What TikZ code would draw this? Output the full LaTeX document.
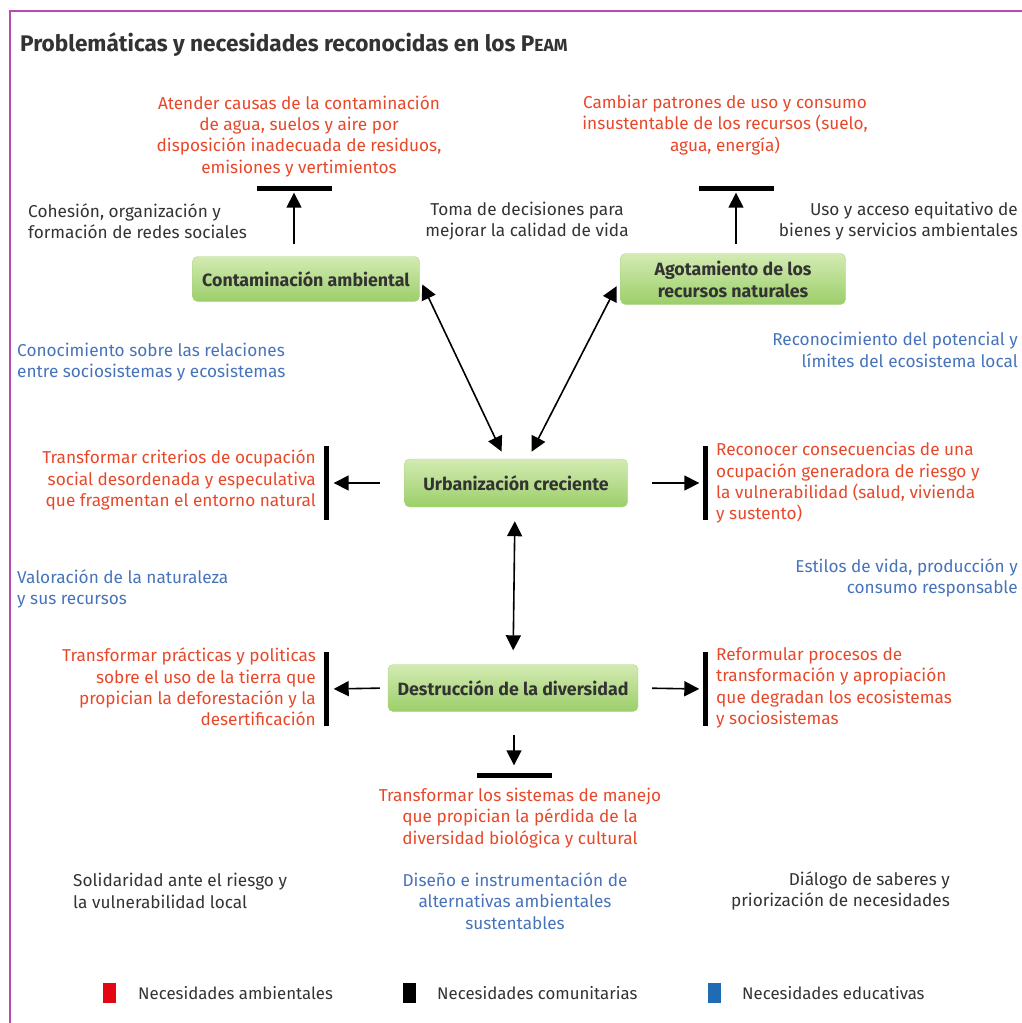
\documentclass[tikz,border=0pt]{standalone}
\usepackage{fontspec}
\setmainfont{Fira Sans}
\usepackage{tikz}
\usetikzlibrary{arrows.meta,positioning,calc}
\definecolor{peamFrame}{HTML}{B54CAE}
\definecolor{peamRed}{HTML}{E8482A}
\definecolor{peamBlue}{HTML}{4773BA}
\definecolor{peamInk}{HTML}{333333}
\definecolor{peamBoxTop}{HTML}{D3EBB3}
\definecolor{peamBoxBot}{HTML}{9CCE69}
\definecolor{peamBoxLine}{HTML}{AED486}
\definecolor{legRed}{HTML}{E30613}
\definecolor{legBlue}{HTML}{1F6CB4}

\begin{document}
\begin{tikzpicture}[
  x=1pt,y=-1pt,
  txt/.style={font=\fontsize{17.2}{21.3}\selectfont,inner sep=0pt},
  amb/.style={txt,color=peamRed},
  com/.style={txt,color=peamInk},
  edu/.style={txt,color=peamBlue},
  prob/.style={rounded corners=5pt,draw=peamBoxLine,top color=peamBoxTop,bottom color=peamBoxBot,
    font=\bfseries\fontsize{17.8}{22}\selectfont,text=peamInk,align=center,inner sep=0pt},
  hbar/.style={fill=black,inner sep=0pt,minimum width=75pt,minimum height=5pt},
  vbar/.style={fill=black,inner sep=0pt,minimum width=5pt,minimum height=74pt},
  arr/.style={line width=1.6pt,-{Triangle[length=15pt,width=15pt]}},
  dbl/.style={line width=1.6pt,{Triangle[length=15pt,width=15pt]}-{Triangle[length=15pt,width=15pt]}},
  leg/.style={inner sep=0pt,minimum width=13pt,minimum height=20pt},
  legtxt/.style={font=\fontsize{16.8}{18}\selectfont,color=peamInk,inner sep=0pt,anchor=west}
]
  \useasboundingbox (0,0) rectangle (1022,1023);
  \draw[peamFrame,line width=2pt] (10,1023) -- (10,11) -- (1022,11);
  \node[anchor=west,inner sep=0pt,font=\bfseries\fontsize{22.6}{26}\selectfont,color=peamInk] (title) at (20,45)
    {Problemáticas y necesidades reconocidas en los P{\fontsize{17.5}{26}\selectfont EAM}};

  % problem boxes
  \node[prob,minimum width=227pt,minimum height=45pt] (cont) at (306,279) {Contaminación ambiental};
  \node[prob,minimum width=225pt,minimum height=51pt] (agot) at (733,279) {Agotamiento de los\\recursos naturales};
  \node[prob,minimum width=223pt,minimum height=48pt] (urb) at (516,483) {Urbanización creciente};
  \node[prob,minimum width=250pt,minimum height=47pt] (div) at (513,688) {Destrucción de la diversidad};

  % bars
  \node[hbar] (hbA) at (294,188) {};
  \node[hbar] (hbB) at (736,188) {};
  \node[hbar] (hbC) at (514,775) {};
  \node[vbar] (vbA) at (326,483) {};
  \node[vbar] (vbB) at (705,483) {};
  \node[vbar] (vbC) at (326,689) {};
  \node[vbar] (vbD) at (705,689) {};

  % needs
  \node[amb,align=center] (n1) at (299,136) {Atender causas de la contaminación\\de agua, suelos y aire por\\disposición inadecuada de residuos,\\emisiones y vertimientos};
  \node[amb,align=center] (n2) at (725,125) {Cambiar patrones de uso y consumo\\insustentable de los recursos (suelo,\\agua, energía)};
  \node[com,align=left,anchor=west] (n3) at (28,221) {Cohesión, organización y\\formación de redes sociales};
  \node[com,align=center] (n4) at (527,221) {Toma de decisiones para\\mejorar la calidad de vida};
  \node[com,align=right,anchor=east] (n5) at (1018,221) {Uso y acceso equitativo de\\bienes y servicios ambientales};
  \node[edu,align=left,anchor=west] (n6) at (17,362) {Conocimiento sobre las relaciones\\entre sociosistemas y ecosistemas};
  \node[edu,align=right,anchor=east] (n7) at (1018,350) {Reconocimiento del potencial y\\límites del ecosistema local};
  \node[amb,align=right,anchor=east] (n8) at (316,480) {Transformar criterios de ocupación\\social desordenada y especulativa\\que fragmentan el entorno natural};
  \node[amb,align=left,anchor=west] (n9) at (716,483) {Reconocer consecuencias de una\\ocupación generadora de riesgo y\\la vulnerabilidad (salud, vivienda\\y sustento)};
  \node[edu,align=left,anchor=west] (n10) at (17,589) {Valoración de la naturaleza\\y sus recursos};
  \node[edu,align=right,anchor=east] (n11) at (1018,578) {Estilos de vida, producción y\\consumo responsable};
  \node[amb,align=right,anchor=east] (n12) at (316,687) {Transformar prácticas y politicas\\sobre el uso de la tierra que\\propician la deforestación y la\\desertificación};
  \node[amb,align=left,anchor=west] (n13) at (716,688) {Reformular procesos de\\transformación y apropiación\\que degradan los ecosistemas\\y sociosistemas};
  \node[amb,align=center] (n14) at (520,818) {Transformar los sistemas de manejo\\que propician la pérdida de la\\diversidad biológica y cultural};
  \node[com,align=left,anchor=west] (n15) at (73,891) {Solidaridad ante el riesgo y\\la vulnerabilidad local};
  \node[edu,align=center] (n16) at (515,901) {Diseño e instrumentación de\\alternativas ambientales\\sustentables};
  \node[com,align=right,anchor=east] (n17) at (950,891) {Diálogo de saberes y\\priorización de necesidades};

  % connectors
  \draw[arr,shorten <=12pt,shorten >=2pt] (hbA.south |- cont.north) -- (hbA.south);
  \draw[arr,shorten <=9pt,shorten >=2pt] (hbB.south |- agot.north) -- (hbB.south);
  \draw[dbl,shorten <=6pt,shorten >=8pt] (cont.east) -- ([xshift=-11pt]urb.north);
  \draw[dbl,shorten <=8pt,shorten >=8pt] (agot.west) -- ([xshift=12pt]urb.north);
  \draw[arr,shorten <=24pt,shorten >=5pt] (urb.west) -- (vbA.east);
  \draw[arr,shorten <=24pt,shorten >=3pt] (urb.east) -- (vbB.west);
  \draw[dbl,shorten <=14pt,shorten >=14pt] ([xshift=-1pt]urb.south) -- (div.north);
  \draw[arr,shorten <=8pt,shorten >=5pt] (div.west) -- (vbC.east);
  \draw[arr,shorten <=14pt,shorten >=3pt] (div.east) -- (vbD.west);
  \draw[arr,shorten <=23pt,shorten >=7pt] (div.south -| hbC.north) -- (hbC.north);

  % legend
  \node[leg,fill=legRed] (lA) at (109,993) {};
  \node[legtxt] (lAt) at (138,993) {Necesidades ambientales};
  \node[leg,fill=black] (lB) at (409,993) {};
  \node[legtxt] (lBt) at (437,993) {Necesidades comunitarias};
  \node[leg,fill=legBlue] (lC) at (714,993) {};
  \node[legtxt] (lCt) at (742,993) {Necesidades educativas};
\end{tikzpicture}
\end{document}
